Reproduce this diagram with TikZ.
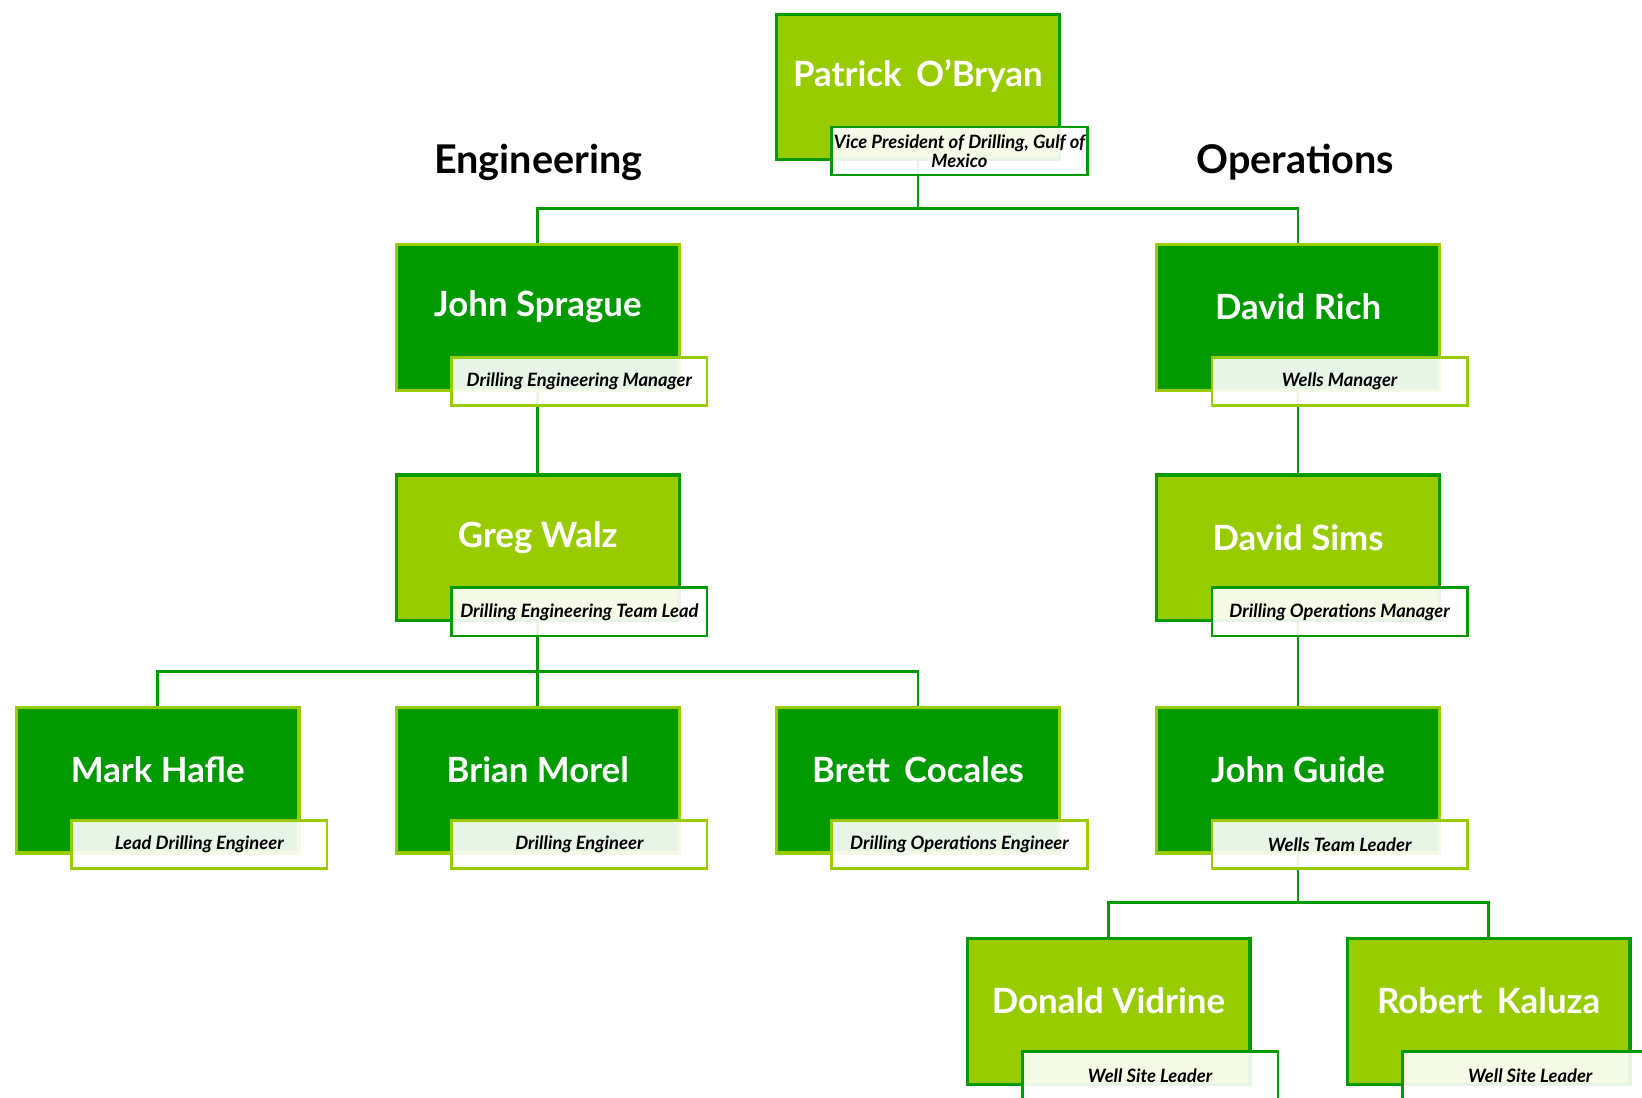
\documentclass[tikz,border=0pt]{standalone}
\usepackage{fontspec}
\setmainfont{Lato}
\usetikzlibrary{calc}
\definecolor{leaf}{HTML}{99CC00}
\definecolor{forest}{HTML}{009900}
\pgfdeclarelayer{back}
\pgfsetlayers{back,main}
% one box of the chart: id, light/dark, x, y, name, role
\newcommand{\member}[6]{%
  \node[#2card] (#1) at (#3,#4) {};
  \node[who] (#1-n) at ([shift={(0,61)}]#1.north) {#5};
  \node[#2role] (#1-r) at ([shift={(53,108)}]#1.north west) {#6};
}

\begin{document}
\begin{tikzpicture}[x=0.5236pt,y=-0.5236pt,
  card/.style={anchor=north west,minimum width=141.4pt,minimum height=72.8pt,inner sep=0pt,line width=1.6pt},
  lightcard/.style={card,fill=leaf,draw=forest},
  darkcard/.style={card,fill=forest,draw=leaf},
  who/.style={text=white,font=\fontsize{17.4}{19}\selectfont\bfseries},
  role/.style={anchor=north west,minimum width=127.8pt,minimum height=24.1pt,inner sep=1pt,
    fill=white,fill opacity=0.9,text opacity=1,line width=1.3pt,text=black,align=center,
    font=\fontsize{9.2}{9.6}\selectfont\bfseries\itshape},
  lightrole/.style={role,draw=forest},
  darkrole/.style={role,draw=leaf},
  head/.style={font=\fontsize{19.8}{21}\selectfont\bfseries},
  link/.style={draw=forest,line width=1.3pt}]
  \useasboundingbox (0,0) rectangle (1568,1048);

  %top
  \member{pob}{light}{740}{12}{Patrick\, O'Bryan}{Vice President of Drilling, Gulf of\\Mexico}
  \node[head] (eng) at (514,155) {Engineering};
  \node[head] (ops) at (1237,155) {Operations};

  %engineering side
  \member{js}{dark}{377}{232}{John Sprague}{Drilling Engineering Manager}
  \member{gw}{light}{377}{452}{Greg Walz}{Drilling Engineering Team Lead}
  \member{mh}{dark}{14}{674}{Mark Hafle}{Lead Drilling Engineer}
  \member{bm}{dark}{377}{674}{Brian Morel}{Drilling Engineer}
  \member{bc}{dark}{740}{674}{Brett\, Cocales}{Drilling Operations Engineer}

  %operations side
  \member{dr}{dark}{1103}{232}{David Rich}{Wells Manager}
  \member{ds}{light}{1103}{452}{David Sims}{Drilling Operations Manager}
  \member{jg}{dark}{1103}{674}{John Guide}{Wells Team Leader}
  \member{dv}{light}{922}{895}{Donald Vidrine}{Well Site Leader}
  \member{rk}{light}{1285}{895}{Robert\, Kaluza}{Well Site Leader}

  %lines under the boxes
  \coordinate (top) at (0,199);
  \coordinate (mid) at (0,641);
  \coordinate (low) at (0,862);
  \begin{pgfonlayer}{back}
    \draw[link] (pob.center) -- (pob.center |- top);
    \draw[link] (js.center) |- (pob.center |- top) -| (dr.center);
    \draw[link] (js.center) -- (gw.center);
    \draw[link] (mh.center) |- (gw.center |- mid) -| (bc.center);
    \draw[link] (gw.center) -- (bm.center);
    \draw[link] (dr.center) -- (ds.center) -- (jg.center);
    \draw[link] (dv.center) |- (jg.center |- low) -| (rk.center);
    \draw[link] (jg.center) -- (jg.center |- low);
  \end{pgfonlayer}
\end{tikzpicture}
\end{document}
